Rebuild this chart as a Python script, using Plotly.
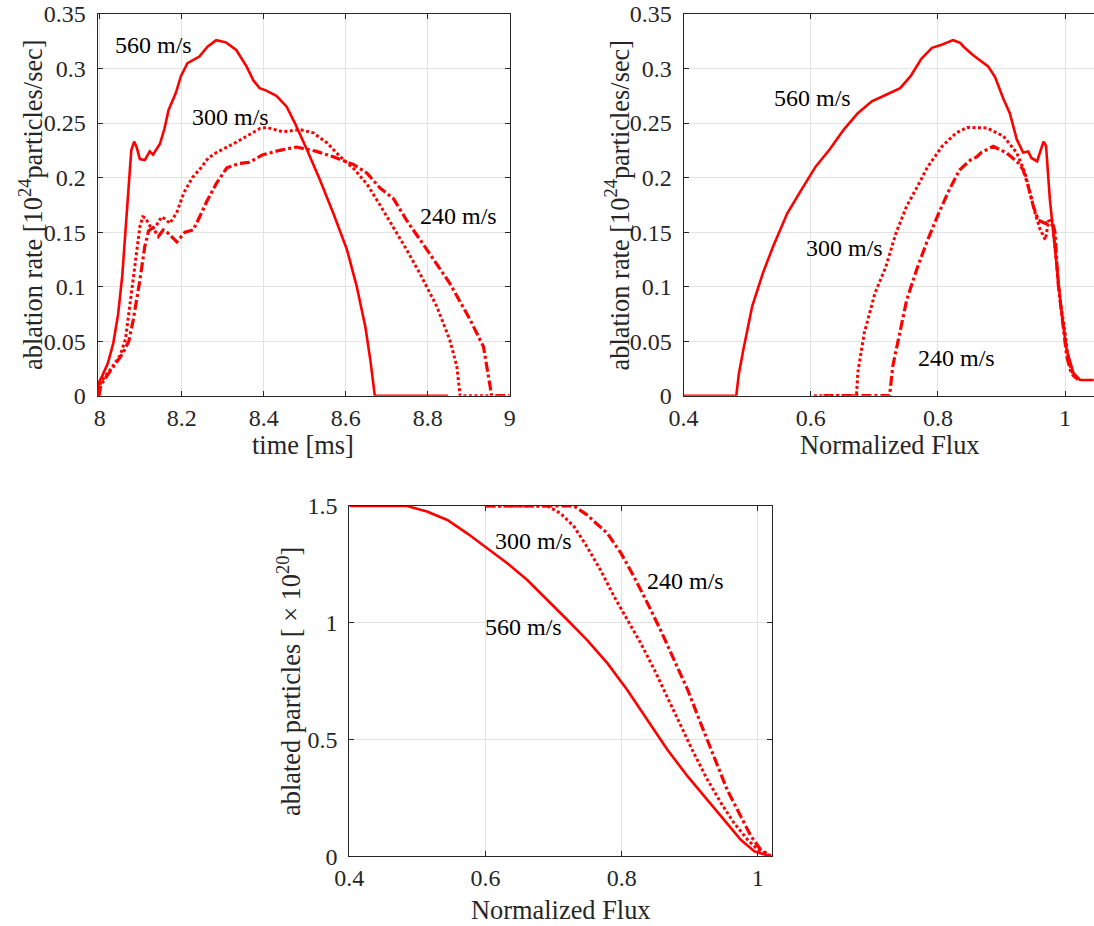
import plotly.graph_objects as go

# ---------------- data ----------------
# Top-left: ablation rate vs time [ms]
t560 = [7.996, 7.999, 8.006, 8.02, 8.033, 8.045, 8.055, 8.063, 8.07, 8.077, 8.084, 8.09, 8.098, 8.11,
        8.122, 8.13, 8.147, 8.158, 8.168, 8.186, 8.198, 8.214, 8.243, 8.263, 8.284, 8.308, 8.333, 8.358,
        8.375, 8.39, 8.405, 8.431, 8.456, 8.476, 8.505, 8.537, 8.57, 8.603, 8.627, 8.648, 8.66, 8.671, 8.85]
r560_t = [0.0, 0.013, 0.018, 0.03, 0.048, 0.075, 0.11, 0.15, 0.192, 0.225, 0.233, 0.228, 0.217, 0.216,
          0.224, 0.221, 0.231, 0.245, 0.262, 0.278, 0.293, 0.305, 0.311, 0.32, 0.326, 0.324, 0.317, 0.302,
          0.289, 0.282, 0.28, 0.275, 0.265, 0.25, 0.226, 0.198, 0.167, 0.134, 0.1, 0.063, 0.033, 0.0, 0.0]

t300 = [7.998, 8.002, 8.03, 8.05, 8.063, 8.072, 8.082, 8.09, 8.098, 8.105, 8.112, 8.12, 8.128, 8.138,
        8.151, 8.16, 8.171, 8.188, 8.205, 8.226, 8.245, 8.265, 8.285, 8.326, 8.36, 8.391, 8.407, 8.447,
        8.488, 8.521, 8.554, 8.587, 8.62, 8.652, 8.685, 8.716, 8.75, 8.781, 8.822, 8.854, 8.871, 8.879, 8.95]
r300_t = [0.0, 0.012, 0.026, 0.037, 0.052, 0.078, 0.11, 0.131, 0.155, 0.164, 0.163, 0.157, 0.153, 0.156,
          0.164, 0.162, 0.158, 0.168, 0.186, 0.2, 0.208, 0.218, 0.223, 0.231, 0.238, 0.245, 0.246, 0.242,
          0.244, 0.241, 0.232, 0.219, 0.208, 0.194, 0.174, 0.155, 0.133, 0.112, 0.082, 0.051, 0.027, 0.0, 0.0]

t240 = [7.998, 8.003, 8.03, 8.055, 8.071, 8.082, 8.098, 8.11, 8.119, 8.13, 8.143, 8.155, 8.167, 8.188,
        8.208, 8.228, 8.245, 8.261, 8.285, 8.31, 8.342, 8.365, 8.398, 8.439, 8.48, 8.529, 8.57, 8.619,
        8.652, 8.685, 8.716, 8.75, 8.798, 8.854, 8.903, 8.936, 8.956, 9.0]
r240_t = [0.0, 0.01, 0.025, 0.038, 0.05, 0.07, 0.106, 0.137, 0.151, 0.154, 0.146, 0.152, 0.149, 0.141,
          0.15, 0.152, 0.165, 0.178, 0.195, 0.209, 0.213, 0.214, 0.221, 0.225, 0.228, 0.224, 0.219, 0.212,
          0.204, 0.19, 0.181, 0.16, 0.134, 0.103, 0.07, 0.045, 0.0, 0.0]

# Top-right: ablation rate vs normalized flux
f560 = [0.4, 0.483, 0.487, 0.494, 0.508, 0.5245, 0.541, 0.563, 0.5855, 0.6077, 0.63, 0.652, 0.674, 0.696,
        0.7186, 0.7406, 0.757, 0.774, 0.7906, 0.807, 0.8237, 0.835, 0.8404, 0.856, 0.879, 0.89, 0.903,
        0.913, 0.924, 0.934, 0.942, 0.947, 0.956, 0.9635, 0.966, 0.970, 0.9736, 0.976, 0.987, 0.995,
        1.0025, 1.013, 1.0234, 1.045]
r560_f = [0.0, 0.0, 0.02, 0.042, 0.082, 0.112, 0.137, 0.167, 0.189, 0.21, 0.226, 0.244, 0.259, 0.27,
          0.276, 0.282, 0.293, 0.309, 0.319, 0.322, 0.326, 0.3236, 0.32, 0.312, 0.302, 0.292, 0.272,
          0.259, 0.235, 0.223, 0.224, 0.218, 0.215, 0.228, 0.233, 0.229, 0.204, 0.18, 0.118, 0.073,
          0.042, 0.021, 0.0144, 0.0144]

f300 = [0.605, 0.672, 0.674, 0.684, 0.701, 0.718, 0.734, 0.751, 0.768, 0.784, 0.807, 0.829, 0.846, 0.877,
        0.903, 0.924, 0.937, 0.945, 0.953, 0.961, 0.969, 0.974, 0.981, 0.987, 0.992, 1.0, 1.005, 1.012, 1.02]
r300_f = [0.0, 0.0, 0.021, 0.057, 0.094, 0.118, 0.149, 0.174, 0.192, 0.21, 0.229, 0.241, 0.246, 0.2455,
          0.238, 0.2226, 0.204, 0.186, 0.167, 0.152, 0.143, 0.161, 0.155, 0.118, 0.088, 0.057, 0.033, 0.02, 0.0145]

f240 = [0.62, 0.724, 0.729, 0.74, 0.751, 0.768, 0.784, 0.801, 0.818, 0.834, 0.851, 0.861, 0.868, 0.887,
        0.908, 0.9265, 0.934, 0.942, 0.95, 0.958, 0.969, 0.979, 0.984, 0.989, 0.995, 1.0025, 1.01, 1.02]
r240_f = [0.0, 0.0, 0.027, 0.057, 0.088, 0.118, 0.143, 0.167, 0.189, 0.207, 0.216, 0.219, 0.223, 0.2286,
          0.2226, 0.2134, 0.207, 0.192, 0.1736, 0.161, 0.158, 0.161, 0.15, 0.103, 0.073, 0.036, 0.02, 0.015]

# Bottom: ablated particles [x 1e20] vs normalized flux
g560 = [0.4, 0.485, 0.514, 0.544, 0.573, 0.602, 0.632, 0.661, 0.691, 0.72, 0.749, 0.779, 0.808, 0.838,
        0.867, 0.897, 0.926, 0.955, 0.975, 0.995, 1.019]
n560 = [1.5, 1.5, 1.476, 1.44, 1.383, 1.319, 1.255, 1.184, 1.098, 1.013, 0.927, 0.827, 0.713, 0.585,
        0.457, 0.342, 0.243, 0.143, 0.071, 0.021, 0.0]

g300 = [0.602, 0.691, 0.71, 0.73, 0.749, 0.769, 0.789, 0.808, 0.828, 0.848, 0.867, 0.887, 0.906, 0.926,
        0.946, 0.965, 0.985, 1.0, 1.014, 1.02]
n300 = [1.5, 1.5, 1.469, 1.412, 1.326, 1.226, 1.112, 1.013, 0.913, 0.799, 0.684, 0.556, 0.442, 0.328,
        0.228, 0.143, 0.071, 0.029, 0.007, 0.0]

g240 = [0.6, 0.73, 0.749, 0.779, 0.799, 0.818, 0.838, 0.857, 0.877, 0.897, 0.916, 0.936, 0.955, 0.975,
        0.99, 1.004, 1.016, 1.02]
n240 = [1.5, 1.5, 1.462, 1.383, 1.298, 1.198, 1.084, 0.97, 0.841, 0.713, 0.57, 0.428, 0.285, 0.171,
        0.086, 0.029, 0.007, 0.0]

# ticks
tl_xticks = [8, 8.2, 8.4, 8.6, 8.8, 9]
tl_xtext = ["8", "8.2", "8.4", "8.6", "8.8", "9"]
rate_yticks = [0, 0.05, 0.1, 0.15, 0.2, 0.25, 0.3, 0.35]
rate_ytext = ["0", "0.05", "0.1", "0.15", "0.2", "0.25", "0.3", "0.35"]
flux_xticks = [0.4, 0.6, 0.8, 1.0]
flux_xtext = ["0.4", "0.6", "0.8", "1"]
part_yticks = [0, 0.5, 1, 1.5]
part_ytext = ["0", "0.5", "1", "1.5"]

# curve labels: (text, x, y) in data units of each panel
labels_tl = [("560 m/s", 8.131, 0.322), ("300 m/s", 8.319, 0.2555), ("240 m/s", 8.875, 0.1644)]
labels_tr = [("560 m/s", 0.6027, 0.273), ("300 m/s", 0.6524, 0.1354), ("240 m/s", 0.8288, 0.0343)]
labels_b = [("300 m/s", 0.670, 1.352), ("240 m/s", 0.8934, 1.181), ("560 m/s", 0.6555, 0.981)]

# ---------------- styling ----------------
FONT = "Liberation Serif, Times New Roman, serif"
RED = "#ff0000"
AX = "#262626"
GRID = "#e3e3e3"
styles = {
    "560": dict(color=RED, width=2.6),
    "300": dict(color=RED, width=3, dash="3px,2.5px"),
    "240": dict(color=RED, width=3.2, dash="10px,3px,3px,3px"),
}

fig = go.Figure()

def add(x, y, key, xa, ya):
    fig.add_trace(go.Scatter(x=x, y=y, mode="lines", line=styles[key], xaxis=xa, yaxis=ya,
                             showlegend=False, cliponaxis=False, hoverinfo="skip"))

add(t560, r560_t, "560", "x", "y")
add(t300, r300_t, "300", "x", "y")
add(t240, r240_t, "240", "x", "y")
add(f560, r560_f, "560", "x2", "y2")
add(f300, r300_f, "300", "x2", "y2")
add(f240, r240_f, "240", "x2", "y2")
add(g560, n560, "560", "x3", "y3")
add(g300, n300, "300", "x3", "y3")
add(g240, n240, "240", "x3", "y3")

W, H = 1094, 926

def axis(domain, rng, tv, tt, anchor, mirror="ticks", standoff=0):
    return dict(domain=domain, range=rng, tickvals=tv, ticktext=tt, anchor=anchor,
                automargin=False,
                showgrid=True, gridcolor=GRID, gridwidth=1, zeroline=False,
                showline=True, linecolor=AX, linewidth=1, mirror=mirror,
                ticks="inside", ticklen=5, tickcolor=AX, tickwidth=1,
                ticklabelstandoff=standoff,
                tickfont=dict(family=FONT, size=24, color=AX), layer="below traces")

top_y = [1 - 395.7 / H, 1 - 14 / H]
bot_y = [1 - 856.3 / H, 1 - 506 / H]

fig.update_layout(
    template="none",
    width=W, height=H, margin=dict(l=0, r=0, t=0, b=0, autoexpand=False),
    paper_bgcolor="white", plot_bgcolor="white",
    font=dict(family=FONT, size=24, color=AX),
    xaxis=axis([97.5 / W, 509.7 / W], [7.9946, 9.0], tl_xticks, tl_xtext, "y"),
    yaxis=axis(top_y, [0, 0.35], rate_yticks, rate_ytext, "x", standoff=6),
    xaxis2=axis([683.5 / W, 1.0], [0.4, 1.0454], flux_xticks, flux_xtext, "y2"),
    yaxis2=axis(top_y, [0, 0.35], rate_yticks, rate_ytext, "x2", mirror=False, standoff=6),
    xaxis3=axis([349.3 / W, 771.7 / W], [0.4, 1.0204], flux_xticks, flux_xtext, "y3"),
    yaxis3=axis(bot_y, [0, 1.5], part_yticks, part_ytext, "x3", standoff=6),
)

ann = []
for (txt, x, y), (xr, yr) in [(l, ("x", "y")) for l in labels_tl] + \
                              [(l, ("x2", "y2")) for l in labels_tr] + \
                              [(l, ("x3", "y3")) for l in labels_b]:
    ann.append(dict(text=txt, x=x, y=y, xref=xr, yref=yr, showarrow=False,
                    xanchor="center", yanchor="middle",
                    font=dict(family=FONT, size=24, color="black")))

title_font = dict(family=FONT, size=26.4, color=AX)
# axis titles
ann += [
    dict(text="time [ms]", x=303 / W, y=1 - 445 / H, xref="paper", yref="paper", showarrow=False,
         xanchor="center", yanchor="middle", font=title_font),
    dict(text="Normalized Flux", x=890 / W, y=1 - 445 / H, xref="paper", yref="paper", showarrow=False,
         xanchor="center", yanchor="middle", font=title_font),
    dict(text="Normalized Flux", x=560.5 / W, y=1 - 910 / H, xref="paper", yref="paper", showarrow=False,
         xanchor="center", yanchor="middle", font=title_font),
    dict(text="ablation rate [10<sup>24</sup>particles/sec]", x=31 / W, y=1 - 205 / H, xref="paper",
         yref="paper", showarrow=False, textangle=-90, xanchor="center", yanchor="middle", font=title_font),
    dict(text="ablation rate [10<sup>24</sup>particles/sec]", x=617.5 / W, y=1 - 205 / H, xref="paper",
         yref="paper", showarrow=False, textangle=-90, xanchor="center", yanchor="middle", font=title_font),
    dict(text="ablated particles [ × 10<sup>20</sup>]", x=289 / W, y=1 - 682 / H, xref="paper",
         yref="paper", showarrow=False, textangle=-90, xanchor="center", yanchor="middle", font=title_font),
]
fig.update_layout(annotations=ann)

fig.write_html("out.html")
